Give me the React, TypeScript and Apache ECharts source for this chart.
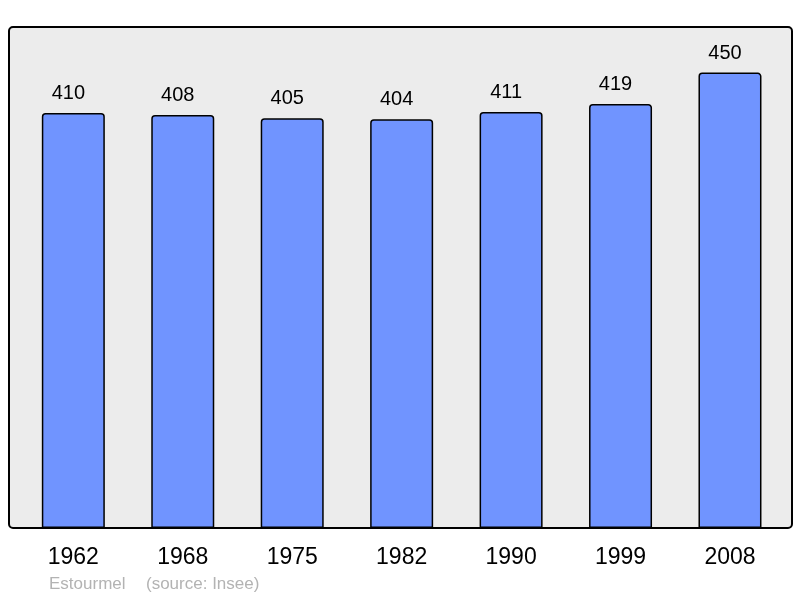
import React, { useEffect, useRef } from "react";
import * as echarts from "echarts";

const years = ["1962", "1968", "1975", "1982", "1990", "1999", "2008"];
const population = [410, 408, 405, 404, 411, 419, 450];
const footerAuthor = "Estourmel";
const footerSource = "(source: Insee)";

export default function App() {
  const ref = useRef<HTMLDivElement>(null);
  useEffect(() => {
    document.body.style.margin = "0";
    const chart = echarts.init(ref.current!, null, { renderer: "svg" });
    chart.setOption({
      animation: false,
      textStyle: { fontFamily: "Liberation Sans, Arial, sans-serif" },
      grid: { left: 18.6, right: 15.3, top: 22, bottom: 70 },
      xAxis: {
        type: "category",
        data: years,
        axisLine: { show: false },
        axisTick: { show: false },
        axisLabel: { color: "#000", fontSize: 23, margin: 16 },
      },
      yAxis: {
        type: "value",
        min: 0,
        max: 500,
        show: false,
        splitLine: { show: false },
      },
      graphic: [
        {
          type: "rect",
          z: -10,
          silent: true,
          shape: { x: 9, y: 27, width: 783, height: 501, r: 4 },
          style: { fill: "#ececec", stroke: "#000", lineWidth: 2 },
        },
        {
          type: "text",
          left: 49,
          top: 575,
          style: { text: footerAuthor, fill: "#b3b3b3", fontSize: 17, fontFamily: "Liberation Sans, Arial, sans-serif" },
        },
        {
          type: "text",
          left: 146,
          top: 575,
          style: { text: footerSource, fill: "#b3b3b3", fontSize: 17, fontFamily: "Liberation Sans, Arial, sans-serif" },
        },
      ],
      series: [
        {
          type: "bar",
          data: population,
          barWidth: 63,
          itemStyle: { color: "#7094ff", borderColor: "#000", borderWidth: 1.5, borderRadius: [3, 3, 0, 0] },
          label: {
            show: true,
            position: "top",
            distance: 11,
            offset: [-5, 0],
            color: "#000",
            fontSize: 20,
          },
        },
      ],
    });
    return () => chart.dispose();
  }, []);
  return <div ref={ref} style={{ position: "fixed", left: 0, top: 0, width: 800, height: 598 }} />;
}
